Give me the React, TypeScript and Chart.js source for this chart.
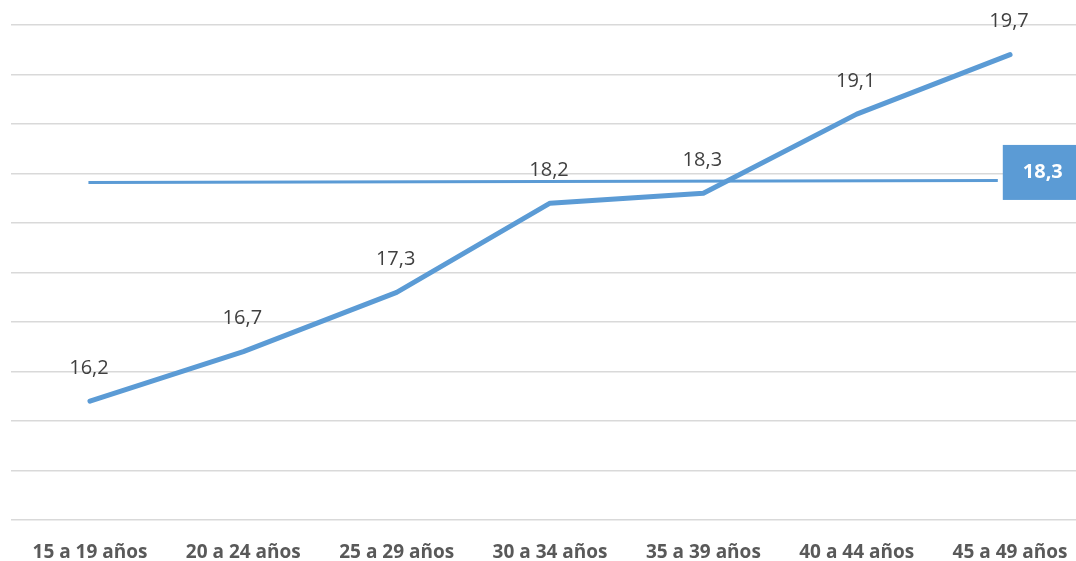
import React, { useEffect, useRef } from "react";
import { Chart, registerables } from "chart.js";

Chart.register(...registerables);

const categories = [
  "15 a 19 años",
  "20 a 24 años",
  "25 a 29 años",
  "30 a 34 años",
  "35 a 39 años",
  "40 a 44 años",
  "45 a 49 años",
];
const values = [16.2, 16.7, 17.3, 18.2, 18.3, 19.1, 19.7];
const averageLabel = "18,3";
const averageLineLevel = [18.41, 18.43];
const averageLineSpan = [-0.01, 5.92];

const BLUE = "#5B9BD5";

const labelPlugin = {
  id: "valueLabels",
  afterDatasetsDraw(chart: any) {
    const ctx = chart.ctx;
    const meta = chart.getDatasetMeta(1);
    ctx.save();
    ctx.font = "20px 'Open Sans'";
    ctx.fillStyle = "#404040";
    ctx.textAlign = "center";
    ctx.textBaseline = "middle";
    meta.data.forEach((pt: any, i: number) => {
      ctx.fillText(values[i].toFixed(1).replace(".", ","), pt.x - 1, pt.y - 33);
    });
    // average label box
    const avgMeta = chart.getDatasetMeta(0);
    const last = avgMeta.data[avgMeta.data.length - 1];
    const left = last.x + 5;
    const cy = last.y - 8;
    const w = 76;
    const h = 55;
    ctx.fillStyle = BLUE;
    ctx.fillRect(left, cy - h / 2, w, h);
    ctx.fillStyle = "#ffffff";
    ctx.font = "bold 20px 'Open Sans'";
    ctx.fillText(averageLabel, left + 40, cy);
    ctx.restore();
  },
};

export default function App() {
  const ref = useRef<HTMLCanvasElement>(null);
  useEffect(() => {
    document.body.style.margin = "0";
    const chart = new Chart(ref.current!, {
      type: "line",
      data: {
        datasets: [
          {
            data: averageLineSpan.map((x, i) => ({ x, y: averageLineLevel[i] })),
            borderColor: BLUE,
            borderWidth: 3,
            pointRadius: 0,
            tension: 0,
          },
          {
            data: values.map((v, i) => ({ x: i, y: v })),
            borderColor: BLUE,
            borderWidth: 5,
            pointRadius: 0,
            tension: 0,
            borderCapStyle: "round",
            borderJoinStyle: "round",
          },
        ],
      },
      options: {
        animation: false,
        responsive: true,
        maintainAspectRatio: false,
        layout: { padding: { left: 11, top: 25, right: 0, bottom: 0 } },
        plugins: { legend: { display: false }, tooltip: { enabled: false } },
        scales: {
          x: {
            type: "linear",
            min: -0.515,
            max: 6.43,
            grid: { display: false },
            border: { display: false },
            afterBuildTicks: (scale: any) => {
              scale.ticks = categories.map((_, i) => ({ value: i }));
            },
            afterFit: (scale: any) => {
              scale.height = 41;
              scale.paddingLeft = 0;
              scale.paddingRight = 0;
            },
            ticks: {
              autoSkip: false,
              maxRotation: 0,
              padding: 13,
              color: "#595959",
              font: { family: "'Open Sans'", size: 19, weight: "bold" },
              callback: (v: any) => categories[v as number] ?? "",
            },
          },
          y: {
            min: 15,
            max: 20,
            ticks: { stepSize: 0.5, display: false },
            grid: { color: "#D9D9D9", lineWidth: 1.5, drawTicks: false },
            border: { display: false },
            afterFit: (scale: any) => {
              scale.width = 0;
              scale.paddingTop = 0;
              scale.paddingBottom = 0;
            },
          },
        },
      },
      plugins: [labelPlugin],
    } as any);
    return () => chart.destroy();
  }, []);
  return (
    <div style={{ width: 1076, height: 561, position: "relative" }}>
      <canvas ref={ref} />
    </div>
  );
}
